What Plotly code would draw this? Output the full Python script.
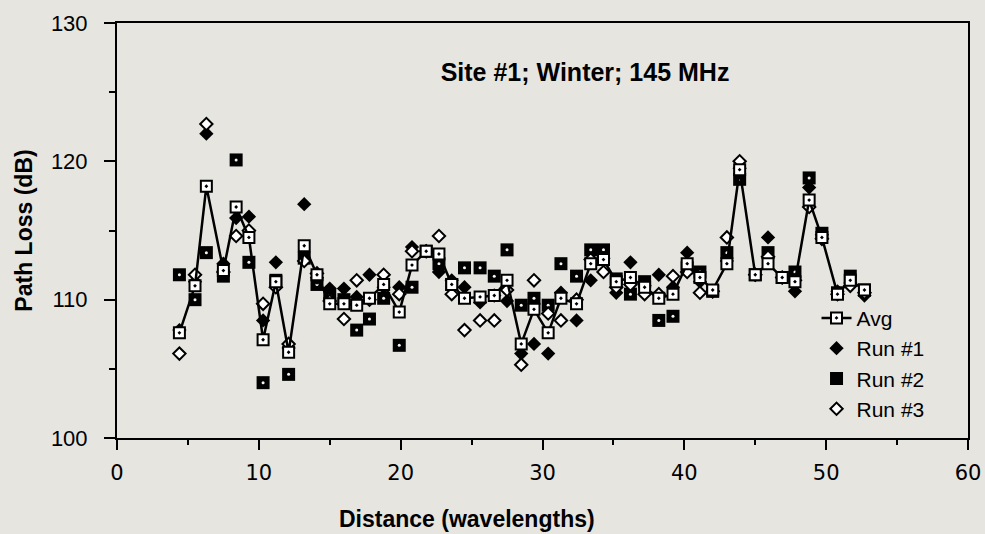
import plotly.graph_objects as go

# ---- data ----
distance = [4.4, 5.5, 6.3, 7.5, 8.4, 9.3, 10.3, 11.2, 12.1, 13.2, 14.1, 15.0, 16.0, 16.9, 17.8,
            18.8, 19.9, 20.8, 21.8, 22.7, 23.6, 24.5, 25.6, 26.6, 27.5, 28.5, 29.4, 30.4, 31.3,
            32.4, 33.4, 34.3, 35.2, 36.2, 37.2, 38.2, 39.2, 40.2, 41.1, 42.0, 43.0, 43.9, 45.0,
            45.9, 46.9, 47.8, 48.8, 49.7, 50.8, 51.7, 52.7]

avg = [107.6, 111.0, 118.2, 112.1, 116.7, 114.5, 107.1, 111.3, 106.2, 113.9, 111.8, 109.7, 109.7,
       109.6, 110.1, 111.1, 109.1, 112.5, 113.5, 113.3, 111.1, 110.1, 110.2, 110.3, 111.4, 106.8,
       109.3, 107.6, 110.1, 109.7, 112.6, 112.9, 111.3, 111.6, 110.9, 110.1, 110.4, 112.6, 111.6,
       110.7, 112.6, 119.4, 111.8, 112.6, 111.6, 111.3, 117.2, 114.5, 110.4, 111.4, 110.7]

run1 = [107.8, 111.3, 122.0, 112.6, 115.9, 116.0, 108.5, 112.7, 106.5, 116.9, 111.6, 110.8, 110.8,
        110.2, 111.8, 110.9, 110.9, 113.8, 113.5, 112.0, 111.4, 110.9, 109.8, 110.3, 109.9, 106.1,
        106.8, 106.1, 110.5, 108.5, 111.4, 113.0, 110.5, 112.7, 111.0, 111.8, 110.9, 113.4, 111.3,
        110.6, 112.8, 119.5, 111.8, 114.5, 111.6, 110.6, 118.1, 114.7, 110.6, 111.2, 110.3]

run2 = [111.8, 110.0, 113.4, 111.7, 120.1, 112.7, 104.0, 111.4, 104.6, 113.0, 111.1, 110.3, 110.0,
        107.8, 108.6, 110.1, 106.7, 110.9, 113.5, 112.6, 111.1, 112.3, 112.3, 111.7, 113.6, 109.6,
        110.1, 109.6, 112.6, 111.7, 113.6, 113.6, 111.5, 110.4, 111.3, 108.5, 108.8, 112.3, 112.0,
        110.6, 113.4, 118.7, 111.8, 113.4, 111.6, 112.0, 118.8, 114.8, 110.5, 111.7, 110.7]

run3 = [106.1, 111.8, 122.7, 112.0, 114.6, 115.0, 109.7, 110.9, 106.8, 112.8, 111.9, 109.9, 108.6,
        111.4, 110.0, 111.8, 110.4, 113.5, 113.5, 114.6, 110.4, 107.8, 108.5, 108.5, 110.7, 105.3,
        111.4, 109.0, 108.5, 110.0, 112.9, 112.0, 110.9, 111.1, 110.4, 110.4, 111.7, 112.0, 110.5,
        110.6, 114.5, 120.0, 111.8, 113.1, 111.6, 111.4, 116.7, 114.4, 110.4, 111.0, 110.5]

x_ticks = [0, 10, 20, 30, 40, 50, 60]
y_ticks = [100, 110, 120, 130]

title_text = "Site #1; Winter; 145 MHz"
x_title = "Distance (wavelengths)"
y_title = "Path Loss (dB)"

BG = "#e6e5e0"
FONT = "Liberation Sans, Arial, Helvetica, sans-serif"

fig = go.Figure()

fig.add_trace(go.Scatter(
    x=distance, y=run2, mode="markers", name="Run #2", legendrank=3,
    marker=dict(symbol="square", size=13, color="black", line=dict(width=0)),
))
fig.add_trace(go.Scatter(
    x=distance, y=run2, mode="markers", name="Run #2 centre", showlegend=False,
    hoverinfo="skip",
    marker=dict(symbol="circle", size=3, color="#f4f4f0", line=dict(width=0)),
))
fig.add_trace(go.Scatter(
    x=distance, y=run1, mode="markers", name="Run #1", legendrank=2,
    marker=dict(symbol="diamond", size=11, color="black", line=dict(width=0)),
))
fig.add_trace(go.Scatter(
    x=distance, y=run3, mode="markers", name="Run #3", legendrank=4,
    marker=dict(symbol="diamond", size=9.5, color="white", line=dict(width=2, color="black")),
))
fig.add_trace(go.Scatter(
    x=distance, y=avg, mode="lines+markers", name="Avg", legendrank=1,
    line=dict(color="black", width=2.5),
    marker=dict(symbol="square-dot", size=11, color="white", line=dict(width=2, color="black")),
))

fig.update_layout(
    width=985, height=534,
    margin=dict(l=117, r=17, t=23, b=96, autoexpand=False),
    paper_bgcolor=BG, plot_bgcolor=BG,
    font=dict(family=FONT, color="black"),
    title=dict(text=title_text, xref="paper", x=0.55, xanchor="center",
               yref="container", y=1 - 72 / 534, yanchor="middle",
               font=dict(family=FONT, size=25, weight="bold", color="black")),
    showlegend=True,
    legend=dict(x=0.822, y=0.338, xanchor="left", yanchor="top",
                bgcolor="rgba(0,0,0,0)", borderwidth=0, itemwidth=30,
                tracegroupgap=0, font=dict(family=FONT, size=21, color="black")),
    annotations=[dict(text=x_title, xref="paper", yref="paper",
                      x=0.411, y=-0.195, xanchor="center", yanchor="middle",
                      showarrow=False,
                      font=dict(family=FONT, size=23, weight="bold", color="black"))],
)

fig.update_xaxes(
    range=[0, 60], tickvals=x_ticks, ticktext=[str(v) for v in x_ticks],
    showgrid=False, zeroline=False,
    showline=True, linecolor="black", linewidth=2, mirror=True,
    ticks="outside", ticklen=10, tickwidth=2, tickcolor="black",
    tickfont=dict(family="DejaVu Sans, sans-serif", size=21, color="black"),
    ticklabelstandoff=5,
    minor=dict(dtick=5, ticks="outside", ticklen=5, tickwidth=2, tickcolor="black", showgrid=False),
)
fig.update_yaxes(
    range=[100, 130], tickvals=y_ticks, ticktext=[str(v) for v in y_ticks],
    showgrid=False, zeroline=False,
    showline=True, linecolor="black", linewidth=2, mirror=True,
    ticks="outside", ticklen=11, tickwidth=2, tickcolor="black",
    tickfont=dict(family=FONT, size=22, color="black"),
    ticklabelstandoff=12,
    minor=dict(dtick=5, ticks="outside", ticklen=6, tickwidth=2, tickcolor="black", showgrid=False),
    title=dict(text=y_title, standoff=12,
               font=dict(family=FONT, size=23, weight="bold", color="black")),
)

fig.write_html(
    "out.html",
    config={"displayModeBar": False},
    post_script="document.body.style.margin='0';document.body.style.background='" + BG + "';",
)
